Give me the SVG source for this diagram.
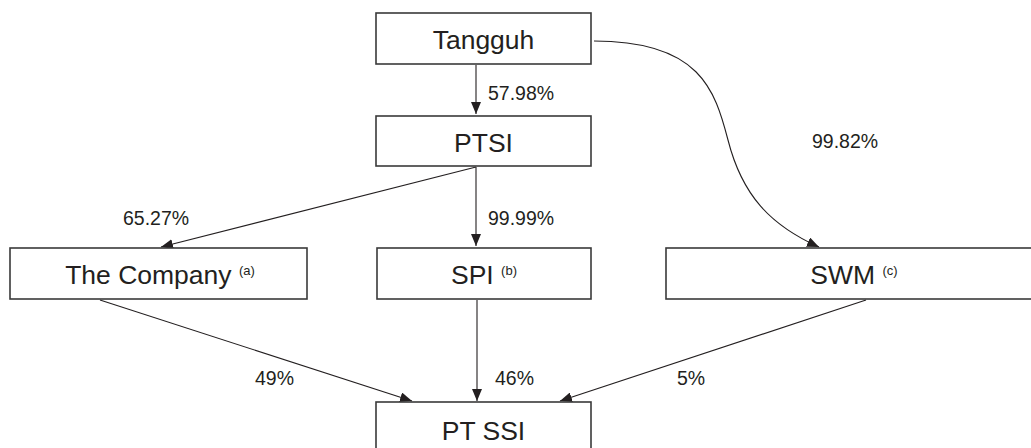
<svg xmlns="http://www.w3.org/2000/svg" width="1031" height="448" viewBox="0 0 1031 448">
<style>
.box{fill:#fff;stroke:#3a3a3a;stroke-width:1.6}
.lbl{font-family:"Liberation Sans",Arial,sans-serif;font-size:26.5px;fill:#231f20;text-anchor:middle}
.sup{font-size:13px}
.pct{font-family:"Liberation Sans",Arial,sans-serif;font-size:19.5px;fill:#231f20}
.con{fill:none;stroke:#231f20;stroke-width:1.1}
</style>
<defs>
<marker id="ah" viewBox="0 0 12 10" refX="12" refY="5" markerWidth="12" markerHeight="10" markerUnits="userSpaceOnUse" orient="auto">
<path d="M0,0 L12,5 L0,10 Z" fill="#231f20"/>
</marker>
</defs>
<g id="connectors">
<line class="con" x1="476" y1="65" x2="476" y2="114" marker-end="url(#ah)"/>
<line class="con" x1="476" y1="167" x2="161" y2="247" marker-end="url(#ah)"/>
<line class="con" x1="476" y1="167" x2="476" y2="246" marker-end="url(#ah)"/>
<path class="con" d="M594,41 C700,41 715,90 728,140 C742,195 770,225 819,247" marker-end="url(#ah)"/>
<line class="con" x1="100" y1="300" x2="412" y2="401" marker-end="url(#ah)"/>
<line class="con" x1="477" y1="300" x2="477" y2="401" marker-end="url(#ah)"/>
<line class="con" x1="866" y1="300" x2="560" y2="401" marker-end="url(#ah)"/>
<text class="pct" x="488" y="100">57.98%</text>
<text class="pct" x="123" y="225">65.27%</text>
<text class="pct" x="488" y="225">99.99%</text>
<text class="pct" x="812" y="148">99.82%</text>
<text class="pct" x="255" y="385">49%</text>
<text class="pct" x="495" y="385">46%</text>
<text class="pct" x="677" y="385">5%</text>
</g>
<g id="tangguh">
<rect class="box" x="376" y="13" width="215" height="51"/>
<text class="lbl" x="483.5" y="49">Tangguh</text>
</g>
<g id="ptsi">
<rect class="box" x="376" y="116" width="215" height="50"/>
<text class="lbl" x="483.5" y="152">PTSI</text>
</g>
<g id="company">
<rect class="box" x="10" y="248" width="297" height="51"/>
<text class="lbl" x="160" y="284">The Company <tspan class="sup" dy="-9">(a)</tspan></text>
</g>
<g id="spi">
<rect class="box" x="377" y="248" width="214" height="51"/>
<text class="lbl" x="484" y="284">SPI <tspan class="sup" dy="-9">(b)</tspan></text>
</g>
<g id="swm">
<rect class="box" x="666" y="248" width="380" height="51"/>
<text class="lbl" x="854" y="284">SWM <tspan class="sup" dy="-9">(c)</tspan></text>
</g>
<g id="ptssi">
<rect class="box" x="376" y="402" width="215" height="60"/>
<text class="lbl" x="483.5" y="440">PT SSI</text>
</g>
</svg>
